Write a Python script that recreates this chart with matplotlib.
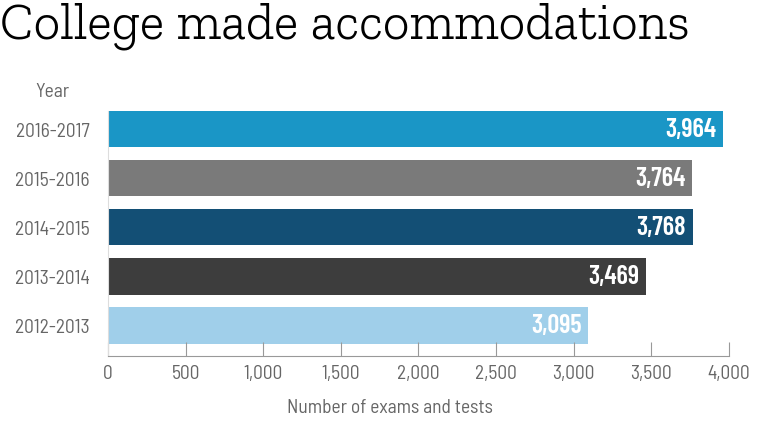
import matplotlib
matplotlib.use("Agg")
import matplotlib.pyplot as plt

years = ["2012-2013", "2013-2014", "2014-2015", "2015-2016", "2016-2017"]
exams = [3095, 3469, 3768, 3764, 3964]
colors = ["#a0cfea", "#3d3d3d", "#134f75", "#7a7a7a", "#1a96c6"]
xticks = [0, 500, 1000, 1500, 2000, 2500, 3000, 3500, 4000]

label_font = "Barlow Semi Condensed"
gray = "#666666"

fig = plt.figure(figsize=(7.8, 4.39), dpi=100)
ax = fig.add_axes([0.1385, 0.187, 0.796, 0.558])

ypos = range(len(years))
ax.barh(ypos, exams, height=0.74, color=colors)

# value labels inside the bar ends
for y, v in zip(ypos, exams):
    ax.text(v - 45, y, f"{v:,}", ha="right", va="center", color="white",
            fontsize=19, fontweight="semibold", family="Barlow Condensed")

ax.set_xlim(0, 4000)
ax.set_ylim(-0.62, 4.37)
ax.set_xticks(xticks)
ax.set_xticklabels([f"{t:,}" for t in xticks], family=label_font,
                   fontsize=14, color=gray)
ax.set_yticks(list(ypos))
ax.set_yticklabels(years, family=label_font, fontsize=14, color=gray)
ax.tick_params(axis="y", length=0, pad=13)
ax.tick_params(axis="x", direction="in", length=10, width=0.8,
               color="#999999", pad=6)
for side in ["top", "right"]:
    ax.spines[side].set_visible(False)
ax.spines["left"].set_color("#dddddd")
ax.spines["left"].set_linewidth(0.8)
ax.spines["bottom"].set_color("#999999")
ax.spines["bottom"].set_linewidth(0.8)

fig.text(0.5, 0.07, "Number of exams and tests", family=label_font,
         fontsize=14, color=gray, ha="center", va="center")
fig.text(0.045, 0.79, "Year", family=label_font, fontsize=14, color=gray,
         va="center")
fig.text(0.0, 0.995, "College made accommodations", family="Zilla Slab",
         fontweight=300, fontsize=37.4, color="black", va="top")

fig.savefig("out.png")
